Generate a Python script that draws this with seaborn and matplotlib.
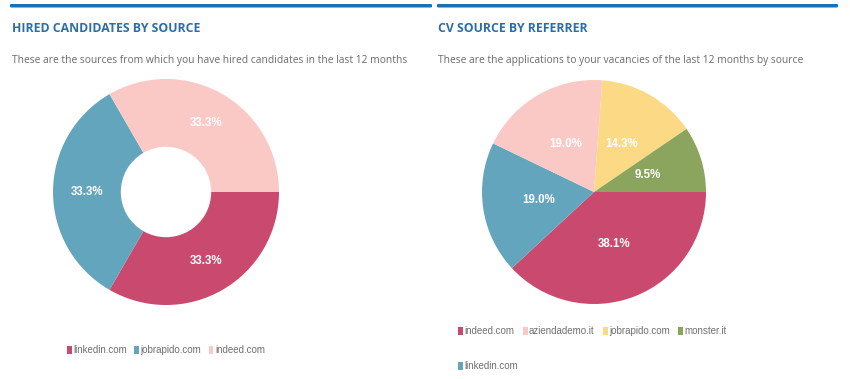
import matplotlib
matplotlib.use("Agg")
import matplotlib.pyplot as plt
import seaborn as sns
from matplotlib.patches import Rectangle, FancyBboxPatch

sns.set_theme(style="white")
plt.rcParams["font.family"] = ["Open Sans", "DejaVu Sans"]

# ── Data ──────────────────────────────────────────────────────────────────────
hired_sources = ["linkedin.com", "jobrapido.com", "indeed.com"]
hired_counts = [1, 1, 1]

cv_sources = ["indeed.com", "linkedin.com", "aziendademo.it", "jobrapido.com", "monster.it"]
cv_counts = [8, 4, 4, 3, 2]
cv_legend_rows = [["indeed.com", "aziendademo.it", "jobrapido.com", "monster.it"],
                  ["linkedin.com"]]

titles = ["HIRED CANDIDATES BY SOURCE", "CV SOURCE BY REFERRER"]
subtitles = ["These are the sources from which you have hired candidates in the last 12 months",
             "These are the applications to your vacancies of the last 12 months by source"]

hired_colors = ["#c94a6e", "#64a5be", "#fbc9c5"]
cv_colors = ["#c94a6e", "#64a5be", "#fbc9c5", "#fcd985", "#8ba55e"]
cv_color_map = dict(zip(cv_sources, cv_colors))
hired_color_map = dict(zip(hired_sources, hired_colors))

W, H = 850, 379
fig = plt.figure(figsize=(W / 100, H / 100), dpi=100)
fig.patch.set_facecolor("white")


def px(x, y):
    return x / W, 1 - y / H


# header bars
for x0, x1 in [(10, 432), (437, 838)]:
    fig.patches.append(FancyBboxPatch(px(x0, 7.5), (x1 - x0) / W, 3.5 / H,
                                      boxstyle="round,pad=0,rounding_size=0.002",
                                      transform=fig.transFigure, color="#1b6fb3",
                                      linewidth=0))

for (tx, title), sub in zip([(12, titles[0]), (438, titles[1])], subtitles):
    fig.text(*px(tx, 28), title, fontsize=8.8, fontweight="bold", color="#2a6ea8",
             va="center", ha="left")
    fig.text(*px(tx, 61), sub, fontsize=7.4, color="#6b6b6b", va="center", ha="left")


def pie_axes(cx, cy, r):
    ax = fig.add_axes([(cx - r) / W, 1 - (cy + r) / H, 2 * r / W, 2 * r / H])
    return ax


def finish(ax):
    ax.set_xlim(-1, 1)
    ax.set_ylim(-1, 1)
    ax.axis("off")


label_kw = dict(color="white", fontsize=8.3, fontweight="bold",
                family=["Liberation Sans", "DejaVu Sans"])

# left donut
ax1 = pie_axes(166, 192, 113)
ax1.pie(hired_counts, colors=hired_colors, startangle=0, counterclock=False,
        radius=1, wedgeprops=dict(width=0.6, linewidth=0),
        autopct="%.1f%%", pctdistance=0.7, textprops=label_kw)
finish(ax1)

# right pie
ax2 = pie_axes(594, 192, 112)
ax2.pie(cv_counts, colors=cv_colors, startangle=0, counterclock=False,
        radius=1, wedgeprops=dict(linewidth=0),
        autopct="%.1f%%", pctdistance=0.5, textprops=label_kw)
finish(ax2)


def legend_row(x, y, names, cmap, gap=7):
    fam = ["Liberation Sans", "DejaVu Sans"]
    renderer = fig.canvas.get_renderer()
    for name in names:
        fig.patches.append(Rectangle(px(x, y + 4), 5 / W, 8 / H, transform=fig.transFigure,
                                     color=cmap[name], linewidth=0))
        t = fig.text(*px(x + 6.5, y), name, fontsize=7.0, color="#707070",
                     va="center", ha="left", family=fam)
        bb = t.get_window_extent(renderer)
        x = x + 6.5 + bb.width + gap


legend_row(67, 350, hired_sources, hired_color_map, gap=7)
legend_row(458, 331, cv_legend_rows[0], cv_color_map, gap=8)
legend_row(458, 366, cv_legend_rows[1], cv_color_map)

fig.savefig("out.png", dpi=100, facecolor="white")
